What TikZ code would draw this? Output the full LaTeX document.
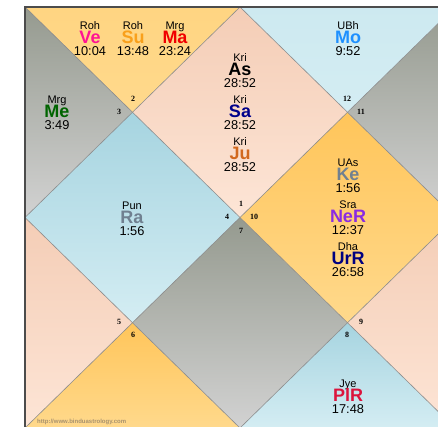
\documentclass[tikz,border=0pt]{standalone}
\usepackage{fontspec}
\setmainfont{Liberation Sans}
\newfontfamily\numfont{Liberation Serif}
\definecolor{peachT}{HTML}{F4CDB6}
\definecolor{peachB}{HTML}{FDE5D6}
\definecolor{orangeT}{HTML}{FFC55A}
\definecolor{orangeB}{HTML}{FFD98C}
\definecolor{grayT}{HTML}{959A8F}
\definecolor{grayB}{HTML}{D2D2D2}
\definecolor{blueT}{HTML}{A6D4E0}
\definecolor{blueB}{HTML}{D4EDF3}
\definecolor{cVe}{HTML}{FF1493}
\definecolor{cSu}{HTML}{F9A01B}
\definecolor{cMa}{HTML}{F00000}
\definecolor{cMe}{HTML}{006400}
\definecolor{cSa}{HTML}{00008B}
\definecolor{cJu}{HTML}{D2691E}
\definecolor{cMo}{HTML}{1E90FF}
\definecolor{cKe}{HTML}{708090}
\definecolor{cNe}{HTML}{8A2BE2}
\definecolor{cUr}{HTML}{000080}
\definecolor{cPl}{HTML}{DC143C}
\definecolor{wm}{HTML}{A8926E}
\tikzset{
  lab/.style={inner sep=0pt, text height=7.9pt, text depth=0pt, font=\fontsize{11}{11}\selectfont},
  deg/.style={inner sep=0pt, text height=9.2pt, text depth=0pt, font=\fontsize{12.8}{12.8}\selectfont},
  pl/.style={inner sep=0pt, text height=12.9pt, text depth=0pt, font=\bfseries\fontsize{18}{18}\selectfont},
  hnum/.style={inner sep=0pt, font=\numfont\bfseries\fontsize{8}{8}\selectfont},
  chartline/.style={draw=black!45, line width=0.6pt},
  border/.style={draw=black!70, line width=1.2pt},
  peach/.style={top color=peachT, bottom color=peachB},
  orange/.style={top color=orangeT, bottom color=orangeB},
  grayc/.style={top color=grayT, bottom color=grayB},
  bluec/.style={top color=blueT, bottom color=blueB},
}
\begin{document}
\begin{tikzpicture}[x=1pt,y=-1pt]
\useasboundingbox (0,0) rectangle (438,427);
\fill[white] (0,0) rectangle (438,427);
\clip (0,0) rectangle (438,427);
\coordinate (TL) at (25,7);
\coordinate (TM) at (240,7);
\coordinate (TR) at (455,7);
\coordinate (ML) at (25,217.5);
\coordinate (C) at (240,217.5);
\coordinate (MR) at (455,217.5);
\coordinate (BL) at (25,428);
\coordinate (BM) at (240,428);
\coordinate (BR) at (455,428);
\coordinate (Q1) at (132.5,112.25);
\coordinate (Q2) at (347.5,112.25);
\coordinate (Q3) at (132.5,322.75);
\coordinate (Q4) at (347.5,322.75);
% houses
\shade[peach] (TM) -- (Q2) -- (C) -- (Q1) -- cycle;      % 1
\shade[top color=orangeB!80!orangeT, bottom color=orangeB] (TL) -- (TM) -- (Q1) -- cycle; % 2
\shade[grayc] (TL) -- (Q1) -- (ML) -- cycle;             % 3
\shade[bluec] (ML) -- (Q1) -- (C) -- (Q3) -- cycle;      % 4
\shade[peach] (ML) -- (Q3) -- (BL) -- cycle;             % 5
\shade[orange] (BL) -- (Q3) -- (BM) -- cycle;            % 6
\shade[grayc] (C) -- (Q4) -- (BM) -- (Q3) -- cycle;      % 7
\shade[bluec] (BM) -- (Q4) -- (BR) -- cycle;             % 8
\shade[peach] (BR) -- (Q4) -- (MR) -- cycle;             % 9
\shade[orange] (C) -- (Q2) -- (MR) -- (Q4) -- cycle;     % 10
\shade[grayc] (TR) -- (MR) -- (Q2) -- cycle;             % 11
\shade[top color=blueB!85!blueT, bottom color=blueB] (TM) -- (TR) -- (Q2) -- cycle; % 12
% lines
\draw[chartline] (TL) -- (BR);
\draw[chartline] (TR) -- (BL);
\draw[chartline] (TM) -- (MR) -- (BM) -- (ML) -- cycle;
\draw[border] (BL) -- (TL) -- (TR);
% house numbers
\node[hnum] (h1) at (241,204) {1};
\node[hnum] (h2) at (133,99) {2};
\node[hnum] (h3) at (119,112) {3};
\node[hnum] (h4) at (227,217) {4};
\node[hnum] (h5) at (119,322) {5};
\node[hnum] (h6) at (133,335) {6};
\node[hnum] (h7) at (241,231) {7};
\node[hnum] (h8) at (347,335) {8};
\node[hnum] (h9) at (361,322) {9};
\node[hnum] (h10) at (254,217) {10};
\node[hnum] (h11) at (361,112) {11};
\node[hnum] (h12) at (347,99) {12};
% house 2
\node[lab] (veN) at (90,26) {Roh};
\node[pl, text=cVe] (ve) at (90,37.5) {Ve};
\node[deg] (veD) at (90,51) {10:04};
\node[lab] (suN) at (133,26) {Roh};
\node[pl, text=cSu] (su) at (133,37.5) {Su};
\node[deg] (suD) at (133,51) {13:48};
\node[lab] (maN) at (175,26) {Mrg};
\node[pl, text=cMa] (ma) at (175,37.5) {Ma};
\node[deg] (maD) at (175,51) {23:24};
% house 3
\node[lab] (meN) at (57,99.5) {Mrg};
\node[pl, text=cMe] (me) at (57,111) {Me};
\node[deg] (meD) at (57,124.5) {3:49};
% house 1
\node[lab] (asN) at (240,58) {Kri};
\node[pl, text=black] (as) at (240,69.5) {As};
\node[deg] (asD) at (240,83) {28:52};
\node[lab] (saN) at (240,100) {Kri};
\node[pl, text=cSa] (sa) at (240,111.5) {Sa};
\node[deg] (saD) at (240,125) {28:52};
\node[lab] (juN) at (240,142) {Kri};
\node[pl, text=cJu] (ju) at (240,153.5) {Ju};
\node[deg] (juD) at (240,167) {28:52};
% house 12
\node[lab] (moN) at (348,26) {UBh};
\node[pl, text=cMo] (mo) at (348,37.5) {Mo};
\node[deg] (moD) at (348,51) {9:52};
% house 10
\node[lab] (keN) at (348,163) {UAs};
\node[pl, text=cKe] (ke) at (348,174.5) {Ke};
\node[deg] (keD) at (348,188) {1:56};
\node[lab] (neN) at (348,205) {Sra};
\node[pl, text=cNe] (ne) at (348,216.5) {NeR};
\node[deg] (neD) at (348,230) {12:37};
\node[lab] (urN) at (348,247) {Dha};
\node[pl, text=cUr] (ur) at (348,258.5) {UrR};
\node[deg] (urD) at (348,272) {26:58};
% house 4
\node[lab] (raN) at (132,206) {Pun};
\node[pl, text=cKe] (ra) at (132,217.5) {Ra};
\node[deg] (raD) at (132,231) {1:56};
% house 8
\node[lab] (plN) at (348,383.5) {Jye};
\node[pl, text=cPl] (plr) at (348,395) {PlR};
\node[deg] (plD) at (348,408.5) {17:48};
% watermark
\node[inner sep=0pt, text=wm, font=\bfseries\fontsize{6}{6}\selectfont, anchor=west] (wmk) at (37,422) {http://www.binduastrology.com};
\end{tikzpicture}
\end{document}
